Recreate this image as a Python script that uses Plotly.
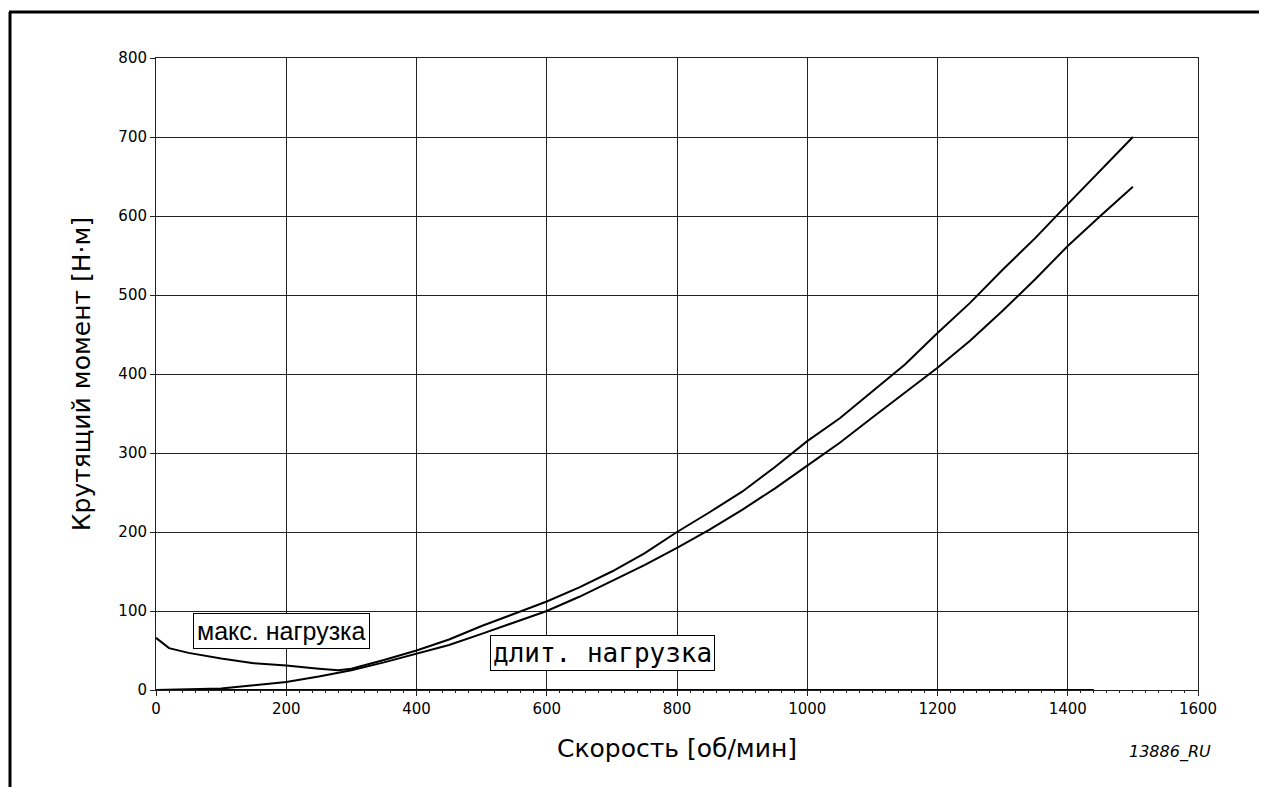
import plotly.graph_objects as go

# максимальная нагрузка
speed_max = [0, 20, 50, 100, 150, 200, 250, 280, 300, 350, 400, 450, 500, 550, 600, 650, 700,
             750, 800, 850, 900, 950, 1000, 1050, 1100, 1150, 1200, 1250, 1300, 1350, 1400, 1450, 1500]
torque_max = [66, 53, 47, 40, 34, 31, 27, 25, 27, 38, 50, 64, 81, 96, 112, 130, 150,
              173, 200, 225, 251, 282, 315, 344, 378, 412, 452, 490, 532, 572, 615, 657, 700]

# длительная нагрузка
speed_cont = [0, 50, 100, 150, 200, 250, 300, 350, 400, 450, 500, 550, 600, 650, 700, 750, 800,
              850, 900, 950, 1000, 1050, 1100, 1150, 1200, 1250, 1300, 1350, 1400, 1450, 1500]
torque_cont = [0, 1, 2, 6, 10, 17, 25, 35, 46, 57, 71, 85, 100, 118, 138, 158, 180,
               203, 228, 255, 284, 313, 345, 376, 408, 442, 480, 520, 562, 600, 637]

# нулевая линия
speed_zero = [0, 1440]
torque_zero = [0, 0]

x_ticks = [0, 200, 400, 600, 800, 1000, 1200, 1400, 1600]
y_ticks = [0, 100, 200, 300, 400, 500, 600, 700, 800]

fig = go.Figure()
for xs, ys in [(speed_zero, torque_zero), (speed_max, torque_max), (speed_cont, torque_cont)]:
    fig.add_trace(go.Scatter(x=xs, y=ys, mode='lines', line=dict(color='black', width=2),
                             showlegend=False, hoverinfo='skip'))

axis_font = dict(family='DejaVu Sans, Verdana', size=15, color='black')
title_font = dict(family='DejaVu Sans, Verdana', size=25, color='black')
# страница имеет отступ 8px, поэтому фигура чуть меньше окна
fig.update_layout(
    width=1259, height=779,
    margin=dict(l=148, r=69, t=50, b=97),
    paper_bgcolor='white', plot_bgcolor='white',
    xaxis=dict(
        range=[0, 1600], tickvals=x_ticks, showgrid=True, gridcolor='#222', gridwidth=1,
        showline=True, linecolor='#222', linewidth=1, mirror=True,
        ticks='outside', ticklen=5, tickcolor='#222', tickfont=axis_font, zeroline=False,
        minor=dict(dtick=20, ticks='outside', ticklen=2, tickcolor='#222', showgrid=False),
        title=dict(text='Скорость [об/мин]', font=title_font, standoff=22),
    ),
    yaxis=dict(
        range=[0, 800], tickvals=y_ticks, showgrid=True, gridcolor='#222', gridwidth=1,
        showline=True, linecolor='#222', linewidth=1, mirror=True,
        ticks='outside', ticklen=5, tickcolor='#222', tickfont=axis_font, zeroline=False,
        title=dict(text='Крутящий момент [Н·м]', font=title_font, standoff=20),
    ),
)

# пиксели страницы -> доли области построения
px = lambda v: (v - 156) / 1042
py = lambda v: (690 - v) / 632

fig.add_annotation(x=192, y=75, xref='x', yref='y', showarrow=False,
                   text='макс. нагрузка', bgcolor='white', bordercolor='black', borderwidth=1, borderpad=3,
                   font=dict(family='Liberation Sans Narrow, Liberation Sans', size=25, color='black'))
fig.add_annotation(x=686, y=47, xref='x', yref='y', showarrow=False,
                   text='длит. нагрузка', bgcolor='white', bordercolor='black', borderwidth=1, borderpad=2,
                   font=dict(family='DejaVu Sans Mono, DejaVu Sans', size=26, color='black'))
fig.add_annotation(x=px(1213), y=py(752), xref='paper', yref='paper', showarrow=False,
                   xanchor='right', yanchor='middle', text='<i>13886_RU</i>',
                   font=dict(family='DejaVu Sans, Verdana', size=16, color='black'))

# рамка страницы
fig.add_shape(type='line', xref='paper', yref='paper', x0=px(9), x1=px(1267), y0=py(12), y1=py(12),
              line=dict(color='black', width=3))
fig.add_shape(type='line', xref='paper', yref='paper', x0=px(10), x1=px(10), y0=py(12), y1=py(787),
              line=dict(color='black', width=3))

fig.write_html("out.html")
